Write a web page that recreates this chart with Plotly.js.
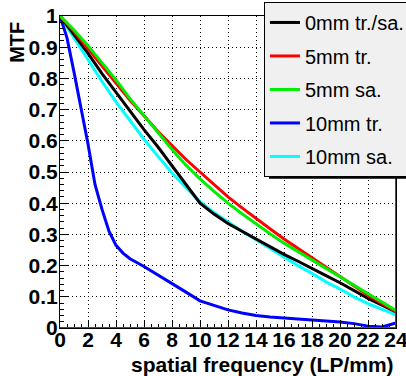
<!DOCTYPE html>
<html>
<head>
<meta charset="utf-8">
<script src="https://cdn.plot.ly/plotly-3.0.1.min.js"></script>
<style>html,body{margin:0;padding:0;background:#fff;}#chart{width:406px;height:376px;}</style>
</head>
<body>
<div id="chart"></div>
<script>
// spatial frequency (LP/mm)
var freq = [0,1,2,3,4,5,6,7,8,9,10,11,12,13,14,15,16,17,18,19,20,21,22,23,24];
var mtf0mm    = [1,0.94,0.88,0.815,0.755,0.695,0.636,0.58,0.52,0.46,0.4,0.365,0.335,0.31,0.285,0.26,0.236,0.214,0.19,0.168,0.145,0.12,0.095,0.073,0.052];
var mtf5mmTr  = [1,0.95,0.895,0.84,0.785,0.73,0.68,0.63,0.585,0.54,0.5,0.46,0.42,0.385,0.35,0.318,0.285,0.255,0.225,0.195,0.165,0.135,0.105,0.078,0.052];
var mtf5mmSa  = [1,0.955,0.905,0.85,0.795,0.735,0.68,0.625,0.572,0.522,0.478,0.438,0.4,0.366,0.333,0.302,0.272,0.245,0.217,0.19,0.162,0.136,0.108,0.082,0.056];
var mtf10mmSa = [1,0.93,0.86,0.79,0.725,0.665,0.605,0.55,0.497,0.45,0.405,0.37,0.34,0.31,0.283,0.255,0.228,0.2,0.175,0.148,0.125,0.1,0.078,0.06,0.042];
var freqBlue  = [0,0.5,1,1.5,2,2.5,3,3.5,4,4.5,5,6,7,8,9,10,11,12,13,14,15,16,17,18,19,20,21,22,23,24];
var mtf10mmTr = [1,0.93,0.82,0.71,0.59,0.46,0.38,0.31,0.265,0.24,0.222,0.197,0.17,0.144,0.115,0.087,0.072,0.058,0.048,0.04,0.035,0.032,0.029,0.026,0.023,0.019,0.014,0.006,0.003,0.016];
var seriesNames = ["0mm tr./sa.","5mm tr.","5mm sa.","10mm tr.","10mm sa."];
var seriesColors = ["#000000","#ff0000","#00ee00","#0000ff","#00ffff"];
var yTickVals = [0,0.1,0.2,0.3,0.4,0.5,0.6,0.7,0.8,0.9,1];
var yTickText = ["0","0.1","0.2","0.3","0.4","0.5","0.6","0.7","0.8","0.9","1"];
var xTickVals = [0,2,4,6,8,10,12,14,16,18,20,22,24];
var xTickText = ["0","2","4","6","8","10","12","14","16","18","20","22","24"];

var xs = [freq, freq, freq, freqBlue, freq];
var ys = [mtf0mm, mtf5mmTr, mtf5mmSa, mtf10mmTr, mtf10mmSa];
var order = [4,3,0,1,2]; // draw order (bottom to top)
var traces = [];
for (var k = 0; k < order.length; k++) {
  var i = order[k];
  traces.push({
    x: xs[i], y: ys[i], type: 'scatter', mode: 'lines',
    name: seriesNames[i], legendrank: i + 1, legendgroup: 'g' + i,
    line: {color: seriesColors[i], width: 3}
  });
}
function bold(arr) { return arr.map(function (s) { return '<b>' + s + '</b>'; }); }

var tickFont = {family: 'Liberation Sans, Arial, sans-serif', size: 21, color: '#000'};
var titleFont = {family: 'Liberation Sans, Arial, sans-serif', size: 21, color: '#000'};
var layout = {
  width: 406, height: 376,
  margin: {l: 60, r: 10, t: 16, b: 48, autoexpand: false},
  paper_bgcolor: '#ffffff', plot_bgcolor: '#ffffff',
  showlegend: true,
  legend: {
    x: 0.607, y: 1.045, xanchor: 'left', yanchor: 'top',
    bgcolor: '#f0f0f0', bordercolor: '#000', borderwidth: 1,
    font: {family: 'Liberation Sans, Arial, sans-serif', size: 20, color: '#000'},
    tracegroupgap: 4.5, itemwidth: 30, traceorder: 'grouped'
  },
  xaxis: {
    range: [0, 24], tickvals: xTickVals, ticktext: bold(xTickText), ticks: 'inside', ticklen: 8, tickwidth: 1, tickcolor: '#000',
    minor: {dtick: 0.5, ticks: 'inside', ticklen: 4, tickcolor: '#000', showgrid: false},
    showline: true, linecolor: '#000', linewidth: 1, mirror: true,
    showgrid: true, gridcolor: '#000', gridwidth: 1, griddash: '1px,3px',
    zeroline: false, tickfont: tickFont, ticklabeloverflow: 'allow', ticklabelstandoff: -7
  },
  yaxis: {
    range: [0, 1], tickvals: yTickVals, ticktext: bold(yTickText), ticks: 'inside', ticklen: 8, tickwidth: 1, tickcolor: '#000',
    minor: {dtick: 0.02, ticks: 'inside', ticklen: 4, tickcolor: '#000', showgrid: false},
    showline: true, linecolor: '#000', linewidth: 1, mirror: true,
    showgrid: true, gridcolor: '#000', gridwidth: 1, griddash: '1px,3px',
    zeroline: false, tickfont: tickFont, ticklabeloverflow: 'allow', ticklabelstandoff: -3
  },
  shapes: [
    {type: 'line', xref: 'x', yref: 'y', x0: 0, x1: 24, y0: 0, y1: 0, line: {color: '#ff0000', width: 2}, layer: 'above'},
    {type: 'line', xref: 'x', yref: 'y', x0: 24, x1: 24, y0: 0, y1: 1, line: {color: '#ff0000', width: 2}, layer: 'above'},
    {type: 'rect', xref: 'paper', yref: 'paper', x0: 0.622, x1: 1.1, y0: 0.4785, y1: 0.4946, fillcolor: '#000', line: {width: 0}, layer: 'above'}
  ],
  annotations: [
    {text: '<b>MTF</b>', xref: 'paper', yref: 'paper', x: -0.13, y: 0.915, textangle: -90, showarrow: false,
     xanchor: 'center', yanchor: 'middle', font: {family: 'Liberation Sans, Arial, sans-serif', size: 20, color: '#000'}},
    {text: '<b>spatial frequency (LP/mm)</b>', xref: 'paper', yref: 'paper', x: 1, y: -0.118, showarrow: false,
     xanchor: 'right', yanchor: 'middle', font: titleFont}
  ]
};
Plotly.newPlot('chart', traces, layout, {displayModeBar: false, staticPlot: true});
</script>
</body>
</html>
